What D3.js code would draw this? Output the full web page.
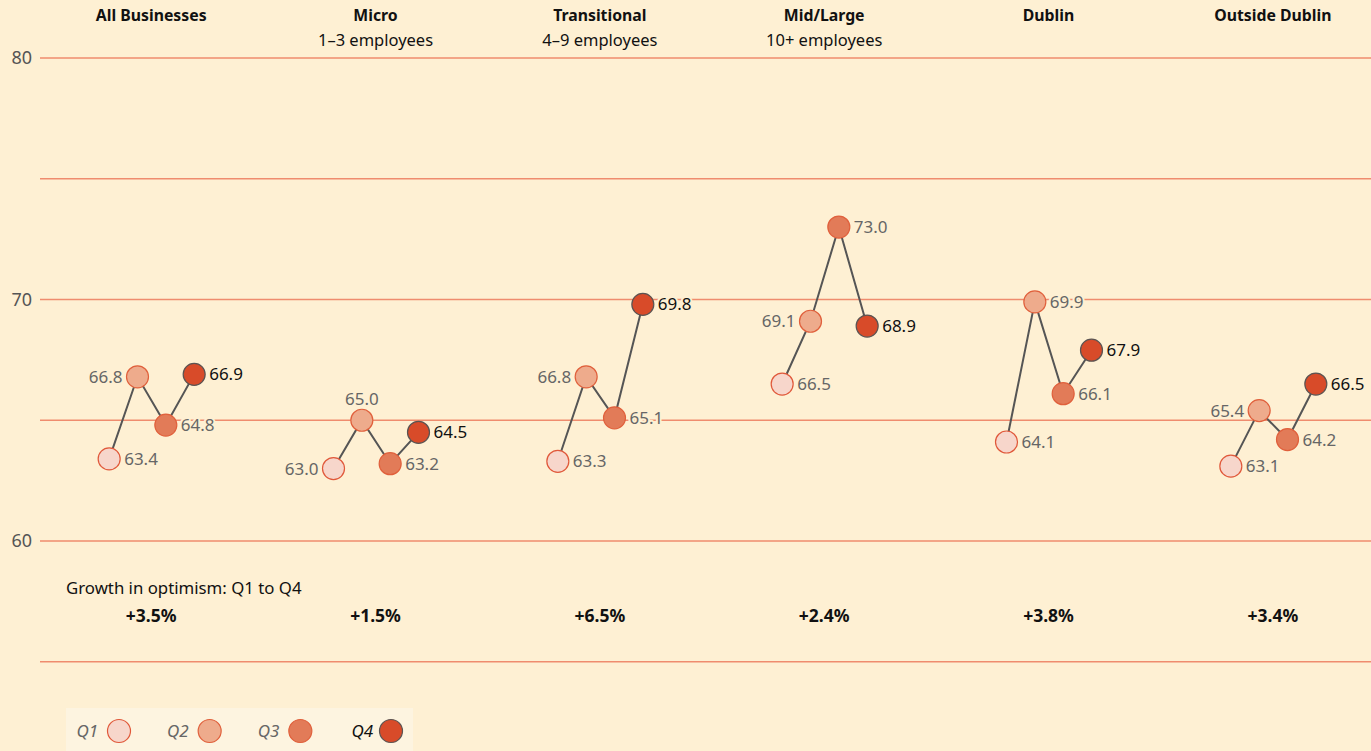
<!DOCTYPE html>
<html>
<head>
<meta charset="utf-8">
<script src="https://cdn.jsdelivr.net/npm/d3@7"></script>
<style>
  html, body { margin:0; padding:0; background:#fef0d3; overflow:hidden; }
  svg { display:block; font-family:"Noto Sans", sans-serif; }
</style>
</head>
<body>
<script>
const groups = ["All Businesses","Micro","Transitional","Mid/Large","Dublin","Outside Dublin"]
const subtitles = ["","1–3 employees","4–9 employees","10+ employees","",""]
const quarters = ["Q1","Q2","Q3","Q4"]
const q1 = [63.4, 63.0, 63.3, 66.5, 64.1, 63.1]
const q2 = [66.8, 65.0, 66.8, 69.1, 69.9, 65.4]
const q3 = [64.8, 63.2, 65.1, 73.0, 66.1, 64.2]
const q4 = [66.9, 64.5, 69.8, 68.9, 67.9, 66.5]
const growth = ["+3.5%","+1.5%","+6.5%","+2.4%","+3.8%","+3.4%"]
const yTicks = [55,60,65,70,75,80]
const yLabels = [60,70,80]
// where each value label goes relative to its dot
const labelSide = [
  ["r","l","r","r"],
  ["l","t","r","r"],
  ["r","l","r","r"],
  ["r","l","r","r"],
  ["r","r","r","r"],
  ["r","l","r","r"]
]

const width = 1371, height = 751
const bg = "#fef0d3"
const fills = ["#f7d6cb","#eeab8c","#e27b58","#d84b29"]
const strokes = ["#e0583a","#e0603c","#e0603c","#5b5452"]

const svg = d3.select("body").append("svg")
  .attr("width",width).attr("height",height)

const x = d3.scaleBand().domain(groups).range([39,1385])
const xq = d3.scalePoint().domain(quarters).range([-42,43])
const y = d3.scaleLinear().domain([60,80]).range([541,58])

// grid
svg.append("g").selectAll("line").data(yTicks).enter().append("line")
  .attr("x1",40).attr("x2",width)
  .attr("y1",d=>y(d)).attr("y2",d=>y(d))
  .attr("stroke","#ef8c6e").attr("stroke-width",1.3)

svg.append("g").selectAll("text").data(yLabels).enter().append("text")
  .attr("x",32).attr("y",d=>y(d)).attr("dy","0.35em")
  .attr("text-anchor","end").attr("fill","#555").style("font-size","18px")
  .text(d=>d)

// headers
const hdr = svg.append("g").selectAll("g").data(groups).enter().append("g")
  .attr("transform",d=>`translate(${x(d)+x.bandwidth()/2},0)`)
hdr.append("text").attr("y",21).attr("text-anchor","middle")
  .style("font-size","15.8px").style("font-weight","bold").attr("fill","#111")
  .text(d=>d)
hdr.append("text").attr("y",46).attr("text-anchor","middle")
  .style("font-size","16.5px").attr("fill","#111")
  .text((d,i)=>subtitles[i])

// series
const data = groups.map((g,i)=>({group:g, vals:[q1[i],q2[i],q3[i],q4[i]], side:labelSide[i]}))
const line = d3.line().x(d=>d.x).y(d=>d.y)

data.forEach(g=>{
  const cx = x(g.group)+x.bandwidth()/2
  const pts = g.vals.map((v,j)=>({x:cx+xq(quarters[j]), y:y(v), v:v, j:j, side:g.side[j]}))
  const gg = svg.append("g")
  gg.append("path").datum(pts).attr("d",line)
    .attr("fill","none").attr("stroke","#555").attr("stroke-width",2)
  gg.selectAll("circle").data(pts).enter().append("circle")
    .attr("cx",d=>d.x).attr("cy",d=>d.y).attr("r",11)
    .attr("fill",d=>fills[d.j]).attr("stroke",d=>strokes[d.j]).attr("stroke-width",1.2)
  gg.selectAll("text").data(pts).enter().append("text")
    .attr("x",d=>d.side=="r"?d.x+15:d.side=="l"?d.x-15:d.x)
    .attr("y",d=>d.side=="t"?d.y-21:d.y)
    .attr("dy","0.35em")
    .attr("text-anchor",d=>d.side=="r"?"start":d.side=="l"?"end":"middle")
    .style("font-size","17px")
    .attr("fill",d=>d.j==3?"#111":"#666")
    .attr("stroke",bg).attr("stroke-width",4).attr("paint-order","stroke")
    .text(d=>d.v.toFixed(1))
})

// growth row
svg.append("text").attr("x",66).attr("y",594)
  .style("font-size","16.8px").attr("fill","#111")
  .text("Growth in optimism: Q1 to Q4")
svg.append("g").selectAll("text").data(growth).enter().append("text")
  .attr("x",(d,i)=>x(groups[i])+x.bandwidth()/2).attr("y",622)
  .attr("text-anchor","middle").style("font-size","17.5px").style("font-weight","bold")
  .attr("fill","#111").text(d=>d)

// legend
const lg = svg.append("g")
lg.append("rect").attr("x",66).attr("y",708).attr("width",347).attr("height",45).attr("fill","#fdf4e0")
const lx = d3.scalePoint().domain(quarters).range([119,391])
const li = lg.selectAll("g").data(quarters).enter().append("g")
  .attr("transform",d=>`translate(${lx(d)},731)`)
li.append("circle").attr("r",11.5)
  .attr("fill",(d,i)=>fills[i]).attr("stroke",(d,i)=>strokes[i]).attr("stroke-width",1.2)
li.append("text").attr("x",(d,i)=>i==3?-18:-21).attr("dy","0.35em").attr("text-anchor","end")
  .style("font-size","17px").style("font-style","italic")
  .attr("fill",(d,i)=>i==3?"#111":"#666").text(d=>d)
</script>
</body>
</html>
